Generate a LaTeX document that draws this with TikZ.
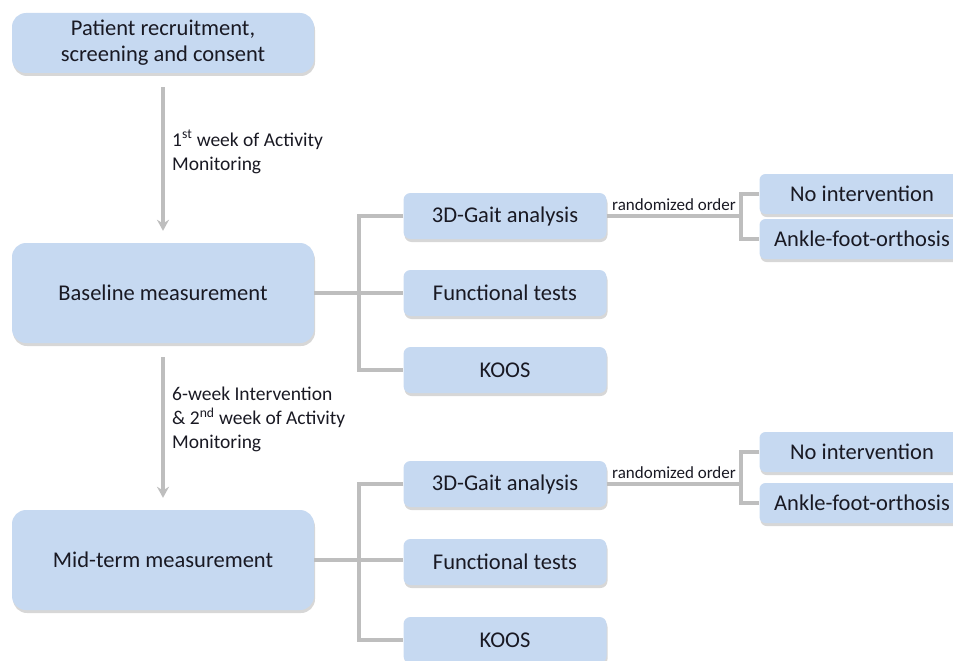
\documentclass[tikz,border=0pt]{standalone}
\usepackage{fontspec}
\setmainfont{Carlito}
\usetikzlibrary{arrows.meta,positioning,shadows}
\definecolor{boxblue}{RGB}{198,217,241}
\definecolor{linegray}{RGB}{190,190,190}
\definecolor{textdark}{RGB}{25,25,35}
\tikzset {
  >=Stealth,
  every node/.style={font=\fontsize{22.5}{26}\selectfont, text=textdark},
}

\begin{document}
\begin{tikzpicture}[x=1pt,y=-1pt,
    boxshadow/.style={drop shadow={shadow xshift=1pt,shadow yshift=-3pt,fill=black!45,opacity=.35}},
    bigbox/.style={fill=boxblue, rounded corners=14pt, minimum width=302pt, align=center, boxshadow},
    testbox/.style={fill=boxblue, rounded corners=7pt, minimum width=203pt, minimum height=46pt, boxshadow},
    armbox/.style={fill=boxblue, rounded corners=6pt, minimum width=205pt, minimum height=40pt, boxshadow},
    link/.style={draw=linegray, line width=4pt},
    flow/.style={draw=linegray, line width=3.5pt, -{Stealth[length=11pt,width=12pt]}, shorten <=14pt, shorten >=12pt},
    note/.style={font=\fontsize{19.5}{24}\selectfont, align=left, anchor=north west, inner sep=0pt},
    small/.style={font=\fontsize{17}{20}\selectfont, above, inner sep=3pt}]
  \clip (0,0) rectangle (953,661);

  % main stages
  \node[bigbox, minimum height=60pt] (recruit) at (163,43) {Patient recruitment,\\screening and consent};
  \node[bigbox, minimum height=100pt] (base) at (163,293) {Baseline measurement};
  \node[bigbox, minimum height=100pt] (mid) at (163,560) {Mid-term measurement};

  \draw[flow] (recruit.south) -- (base.north);
  \draw[flow] (base.south) -- (mid.north);
  \node[note] (week1) at (172,130) {1\textsuperscript{st} week of Activity\\Monitoring};
  \node[note] (week2) at (172,387) {6-week Intervention\\\& 2\textsuperscript{nd} week of Activity\\Monitoring};

  % baseline tests
  \node[testbox] (gait1) at (505,216) {3D-Gait analysis};
  \node[testbox] (func1) at (505,293) {Functional tests};
  \node[testbox] (koos1) at (505,370) {KOOS};
  \node[armbox] (none1) at (862,194) {No intervention};
  \node[armbox] (afo1) at (862,239) {Ankle-foot-orthosis};

  \draw[link] (base.east) -- (base.east -| func1.west);
  \draw[link] (gait1.west) -- ++(-44,0) |- (koos1.west);
  \draw[link] (none1.west) -- ++(-18,0) coordinate (split1) |- (afo1.west);
  \draw[link] (gait1.east) -- node[small]{randomized order} (gait1.east -| split1);

  % mid-term tests
  \node[testbox] (gait2) at (505,484) {3D-Gait analysis};
  \node[testbox] (func2) at (505,562) {Functional tests};
  \node[testbox] (koos2) at (505,640) {KOOS};
  \node[armbox] (none2) at (862,452) {No intervention};
  \node[armbox] (afo2) at (862,503) {Ankle-foot-orthosis};

  \draw[link] (mid.east) -- (mid.east -| func2.west);
  \draw[link] (gait2.west) -- ++(-44,0) |- (koos2.west);
  \draw[link] (none2.west) -- ++(-18,0) coordinate (split2) |- (afo2.west);
  \draw[link] (gait2.east) -- node[small]{randomized order} (gait2.east -| split2);
\end{tikzpicture}
\end{document}
